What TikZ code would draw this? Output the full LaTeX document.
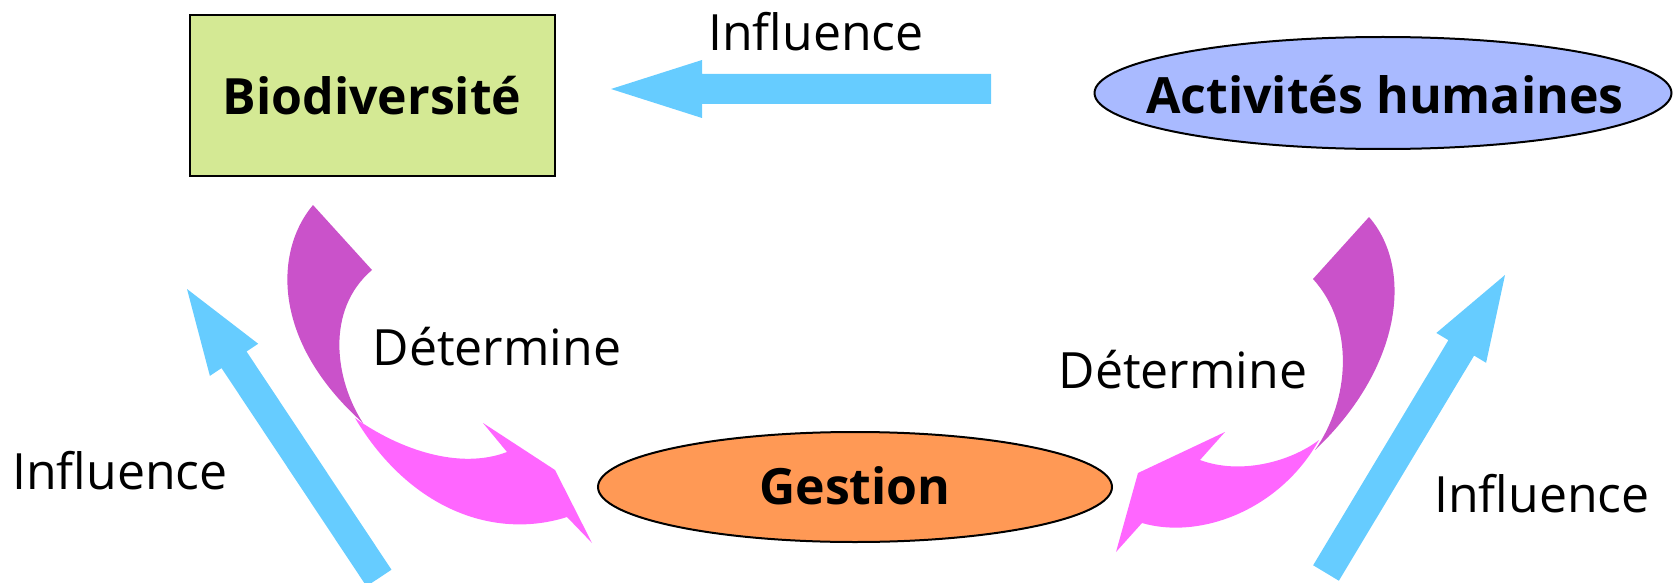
\documentclass[tikz,border=0pt]{standalone}
\usepackage{fontspec}
\setmainfont{Open Sans}
\usetikzlibrary{calc,shapes.geometric}
\definecolor{boxgreen}{HTML}{D4E994}
\definecolor{arrblue}{HTML}{66CCFF}
\definecolor{actblue}{HTML}{A9BAFF}
\definecolor{gestorange}{HTML}{FF9955}
\definecolor{darkpurple}{HTML}{CA52CA}
\definecolor{pinkmag}{HTML}{FF66FF}
\tikzset{
  lbl/.style={font=\fontsize{50}{56}\selectfont, inner sep=0pt, anchor=base},
  blbl/.style={font=\fontsize{50}{56}\selectfont\bfseries, inner sep=0pt, anchor=base},
  outline/.style={draw=black, line width=2pt},
}
\newcommand\fatarrow[6]{%
  \coordinate (#1h) at ($(#3)!#6!(#2)$);
  \fill[arrblue] ($(#2)!#4!90:(#3)$) -- ($(#1h)!#4!90:(#3)$) -- ($(#1h)!#5!90:(#3)$) -- (#3)
    -- ($(#1h)!#5!-90:(#3)$) -- ($(#1h)!#4!-90:(#3)$) -- ($(#2)!#4!-90:(#3)$) -- cycle;
}
\begin{document}
\begin{tikzpicture}[x=1pt,y=-1pt]
\useasboundingbox (0,0) rectangle (1674,583);
% main nodes
\node[outline, fill=boxgreen, rectangle, minimum width=365pt, minimum height=161pt] (bio) at (372.5,95.5) {};
\node[outline, fill=actblue, ellipse, minimum width=577pt, minimum height=112pt, inner sep=0pt] (act) at (1383,93) {};
\node[outline, fill=gestorange, ellipse, minimum width=514pt, minimum height=110pt, inner sep=0pt] (gest) at (855,487) {};
\node[blbl] (biot) at (372,115) {Biodiversité};
\node[blbl] (actt) at (1385,114) {Activités humaines};
\node[blbl] (gestt) at (855,504) {Gestion};
% blue arrows
\coordinate (topS) at (991,89);
\coordinate (topT) at (611,89);
\fatarrow{ta}{topS}{topT}{15pt}{29pt}{91pt}
\coordinate (leftS) at (379,578);
\coordinate (leftT) at (187,289);
\fatarrow{la}{leftS}{leftT}{15pt}{29pt}{85pt}
\coordinate (rightS) at (1326,573);
\coordinate (rightT) at (1505,275);
\fatarrow{ra}{rightS}{rightT}{15pt}{29pt}{85pt}
% left curved arrow
\fill[darkpurple] (313,205) .. controls (275,250) and (270,340) .. (363,423)
  .. controls (335,380) and (325,310) .. (372,270) -- cycle;
\fill[pinkmag] (355,418) .. controls (400,450) and (460,470) .. (507,452)
  -- (483,423) -- (555,470) -- (592,543) -- (567,517)
  .. controls (495,540) and (410,510) .. (355,418) -- cycle;
% right curved arrow
\fill[darkpurple] (1369,217) .. controls (1415,270) and (1400,370) .. (1315,450)
  .. controls (1350,400) and (1355,325) .. (1313,279) -- cycle;
\fill[pinkmag] (1319,440) .. controls (1290,462) and (1240,475) .. (1200,460)
  -- (1225,432) -- (1138,473) -- (1116,552) -- (1142,523)
  .. controls (1200,540) and (1280,510) .. (1319,440) -- cycle;
% labels
\node[lbl] (inftop) at (816,51) {Influence};
\node[lbl] (infleft) at (120,489) {Influence};
\node[lbl] (infright) at (1542,512) {Influence};
\node[lbl] (detleft) at (497,365) {Détermine};
\node[lbl] (detright) at (1183,388) {Détermine};
\end{tikzpicture}
\end{document}
